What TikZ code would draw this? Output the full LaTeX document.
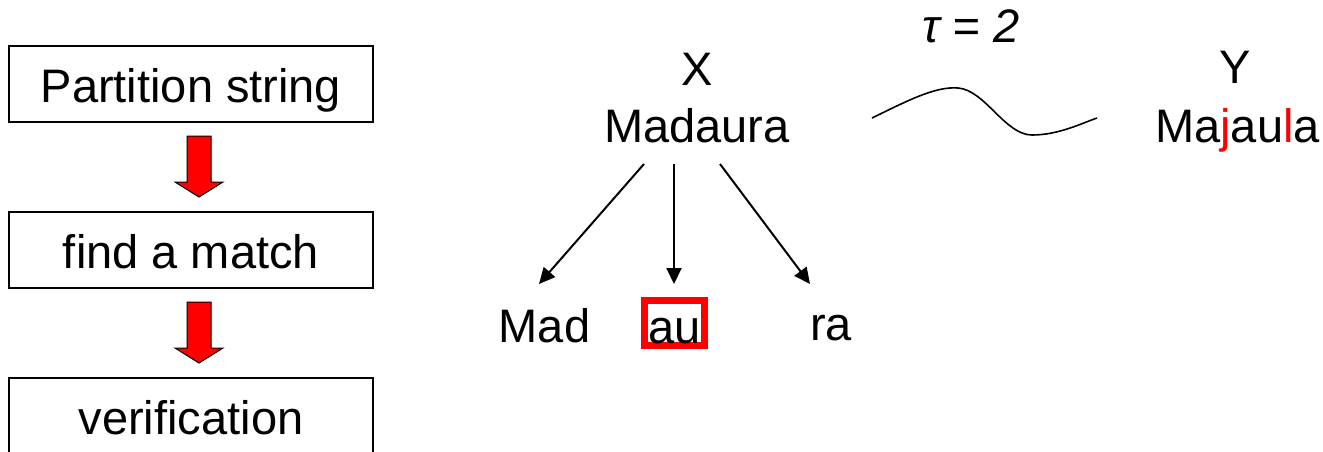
\documentclass[tikz,border=0pt]{standalone}
\usepackage{fontspec}
\setmainfont{Liberation Sans}
\usetikzlibrary{arrows.meta}
\begin{document}
\begin{tikzpicture}[x=1pt,y=-1pt,
  every node/.style={font=\fontsize{47}{56}\selectfont, inner sep=0pt},
  stepbox/.style={draw, line width=2pt, minimum width=364pt, minimum height=76pt,
    text height=36pt, text depth=0pt},
  word/.style={anchor=base},
  tree/.style={line width=2pt, -{Triangle[length=16pt,width=15pt]}},
  blockarrow/.style={fill=red, draw=black, line width=1pt}]
\useasboundingbox (0,0) rectangle (1323,451);
\clip (0,0) rectangle (1323,451);

% flow of steps on the left
\node[stepbox] (part) at (191,84) {Partition string};
\node[stepbox] (find) at (191,250) {find a match};
\node[stepbox] (veri) at (191,416) {verification};

% red block arrows between the steps
\draw[blockarrow] (187,136) -- (211,136) -- (211,182) -- (223,182) -- (199,197)
  -- (175,182) -- (187,182) -- cycle;
\draw[blockarrow] (187,302) -- (211,302) -- (211,348) -- (223,348) -- (199,363)
  -- (175,348) -- (187,348) -- cycle;

% string X and its pieces
\node[word] (xlab) at (697,85) {X};
\node[word] (xstr) at (697,142) {Madaura};
\draw[red, line width=7pt] (644.5,300.5) rectangle (704.5,345.5);
\node[word] (p1) at (544.5,342) {Mad};
\node[word] (p2) at (675,343) {au};
\node[word] (p3) at (831,340) {ra};

\coordinate (s1) at (644,164);
\coordinate (s2) at (674,164);
\coordinate (s3) at (720,164);
\coordinate (e1) at (539,284);
\coordinate (e2) at (674,284);
\coordinate (e3) at (810,284);
\draw[tree] (s1) -- (e1);
\draw[tree] (s2) -- (e2);
\draw[tree] (s3) -- (e3);

% threshold and similarity wave
\node[word] (tau) at (971,42) {\itshape τ = 2};
\draw[line width=1.6pt] (872,118) .. controls (905,102) and (935,86) .. (958,88)
  .. controls (985,90) and (1005,135) .. (1032,135)
  .. controls (1058,135) and (1080,124) .. (1097,118);

% string Y
\node[word] (ylab) at (1235,83) {Y};
\node[word] (ystr) at (1237.5,142) {Ma{\color{red}j}au{\color{red}l}a};
\end{tikzpicture}
\end{document}
